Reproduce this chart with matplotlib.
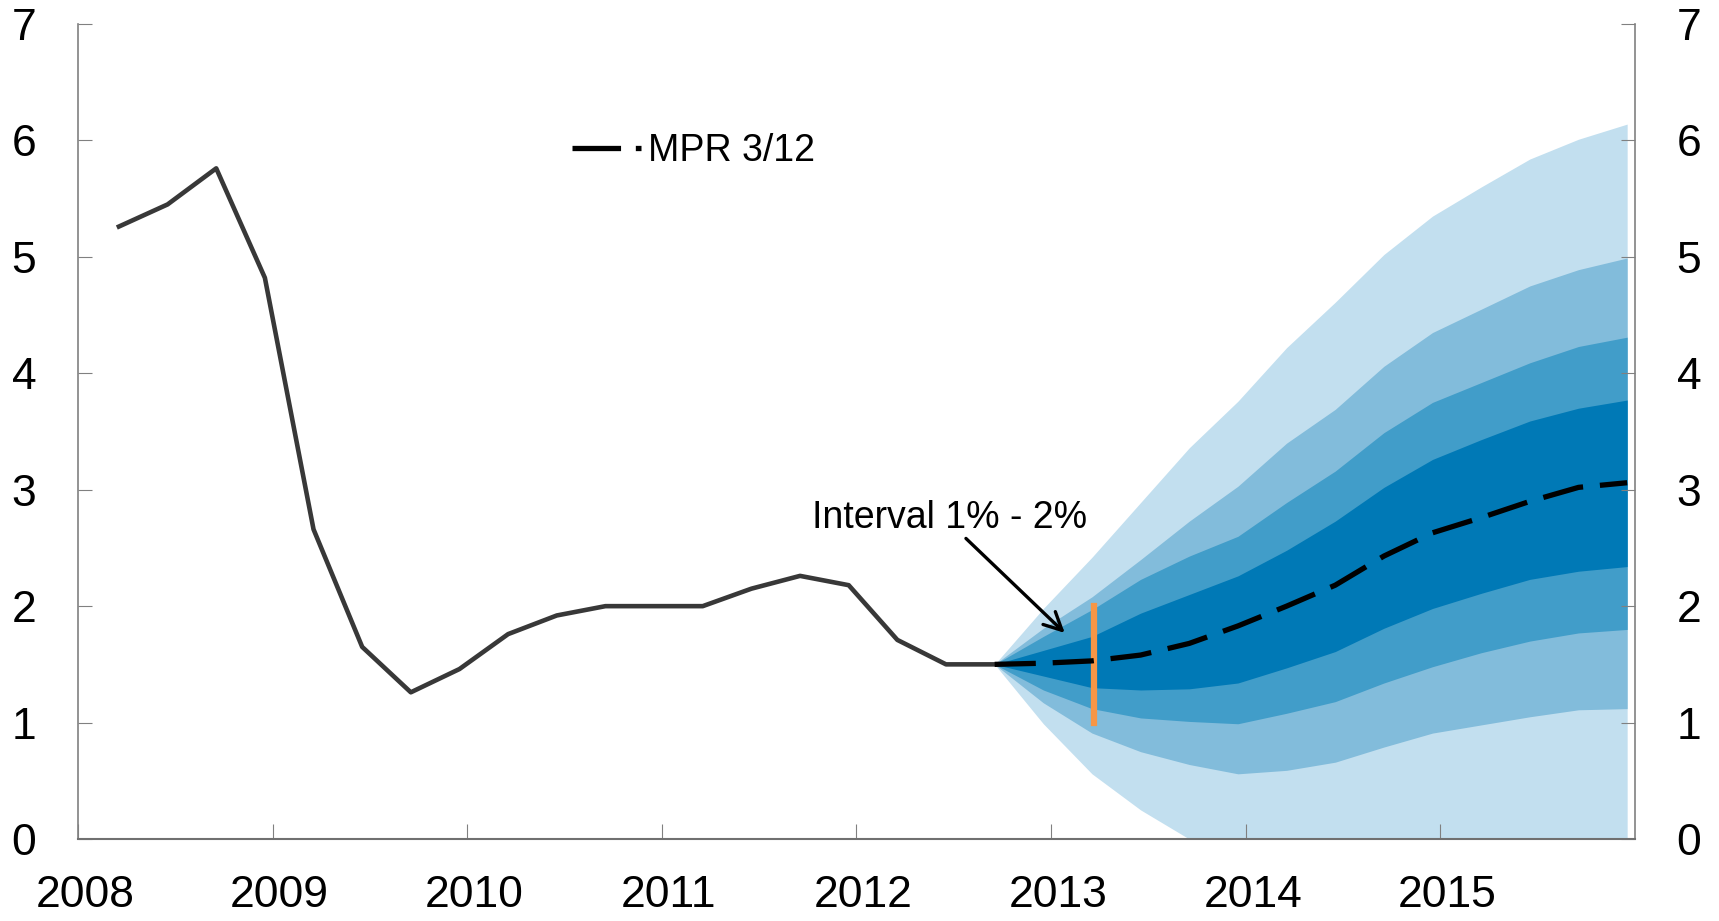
import numpy as np
import matplotlib
matplotlib.use("Agg")
import matplotlib.pyplot as plt
import matplotlib.transforms as mtransforms
from matplotlib.lines import Line2D

plt.rcParams['font.family'] = ['Liberation Sans', 'DejaVu Sans']

# historical policy rate (quarterly)
hist_start = 2008.21
hist_rate = [5.26, 5.45, 5.76, 4.82, 2.66, 1.65, 1.26, 1.46, 1.76, 1.92,
             2.0, 2.0, 2.0, 2.15, 2.26, 2.18, 1.71, 1.5, 1.5]

# forecast fan (quarterly, starting at last observation)
fan_start = 2012.71
median = [1.5, 1.51, 1.53, 1.58, 1.68, 1.83, 2.0, 2.18, 2.43, 2.63, 2.76, 2.9, 3.02, 3.06]
up_90 = [1.5, 1.98, 2.42, 2.89, 3.36, 3.76, 4.22, 4.61, 5.02, 5.35, 5.6, 5.84, 6.01, 6.14]
up_70 = [1.5, 1.81, 2.08, 2.4, 2.73, 3.03, 3.4, 3.69, 4.06, 4.35, 4.55, 4.75, 4.89, 4.99]
up_50 = [1.5, 1.74, 1.97, 2.23, 2.43, 2.6, 2.89, 3.16, 3.49, 3.75, 3.92, 4.09, 4.23, 4.31]
up_30 = [1.5, 1.62, 1.74, 1.94, 2.1, 2.26, 2.48, 2.73, 3.02, 3.26, 3.43, 3.59, 3.7, 3.77]
lo_30 = [1.5, 1.4, 1.3, 1.28, 1.29, 1.34, 1.47, 1.61, 1.81, 1.98, 2.11, 2.23, 2.3, 2.34]
lo_50 = [1.5, 1.28, 1.12, 1.04, 1.01, 0.99, 1.08, 1.18, 1.34, 1.48, 1.6, 1.7, 1.77, 1.8]
lo_70 = [1.5, 1.17, 0.91, 0.75, 0.64, 0.56, 0.59, 0.66, 0.79, 0.91, 0.98, 1.05, 1.11, 1.12]
lo_90 = [1.5, 0.99, 0.56, 0.25, 0.0, 0.0, 0.0, 0.0, 0.0, 0.0, 0.0, 0.0, 0.0, 0.0]

fan_colors = ['#c2dfef', '#82bcdb', '#419dc9', '#0079b6']
years = list(range(2008, 2016))

x_hist = hist_start + 0.25 * np.arange(len(hist_rate))
x_fan = fan_start + 0.25 * np.arange(len(median))

fig = plt.figure(figsize=(17.19, 9.21), dpi=100)
ax = fig.add_axes([0.0454, 0.089, 0.9057, 0.885])

bands = [(lo_90, up_90), (lo_70, up_70), (lo_50, up_50), (lo_30, up_30)]
for (lo, up), c in zip(bands, fan_colors):
    ax.fill_between(x_fan, lo, up, color=c, lw=0, zorder=1)

ax.plot(x_hist, hist_rate, color='#383838', lw=3.3, zorder=3)
ax.plot([2013.22, 2013.22], [1, 2], color='#f79646', lw=4.5, zorder=3)
ax.plot(x_fan, median, color='black', lw=3.8, dashes=(7.8, 3.2), zorder=4)

ax.annotate('Interval 1% - 2%', xy=(2013.07, 1.77), xytext=(2011.77, 2.76),
            fontsize=27, va='center', ha='left',
            arrowprops=dict(arrowstyle='->', lw=2.4, color='black',
                            mutation_scale=32, shrinkA=0, shrinkB=0,
                            relpos=(0.55, 0.0)))

# legend sample uses a longer dash, like the original
proxy = Line2D([], [], color='black', lw=3.8, dashes=(9.2, 2.8))
ax.legend(handles=[proxy], labels=['MPR 3/12'], loc='center left',
          bbox_to_anchor=(0.317, 0.844), frameon=False, fontsize=27,
          handlelength=1.85, handletextpad=0.2, borderpad=0, borderaxespad=0)

ax.set_xlim(2008, 2016)
ax.set_ylim(0, 7)
ax.set_xticks(years)
ax.set_xticklabels([str(y) for y in years])
ax.set_yticks(range(0, 8))

ax.tick_params(axis='y', which='both', direction='in', length=10, width=0.8,
               color='#808080', labelsize=32, pad=30, left=True, right=True,
               labelleft=True, labelright=True)
ax.tick_params(axis='x', direction='in', length=10.5, width=0.8,
               color='#808080', labelsize=32, pad=26)

offset = mtransforms.ScaledTranslation(7 / 100, 0, fig.dpi_scale_trans)
for lab in ax.get_xticklabels():
    lab.set_transform(lab.get_transform() + offset)

ax.spines['top'].set_visible(False)
for s in ['left', 'right']:
    ax.spines[s].set_color('#808080')
    ax.spines[s].set_linewidth(1.2)
ax.spines['bottom'].set_color('#707070')
ax.spines['bottom'].set_linewidth(1.5)

fig.savefig('out.png', dpi=100)
